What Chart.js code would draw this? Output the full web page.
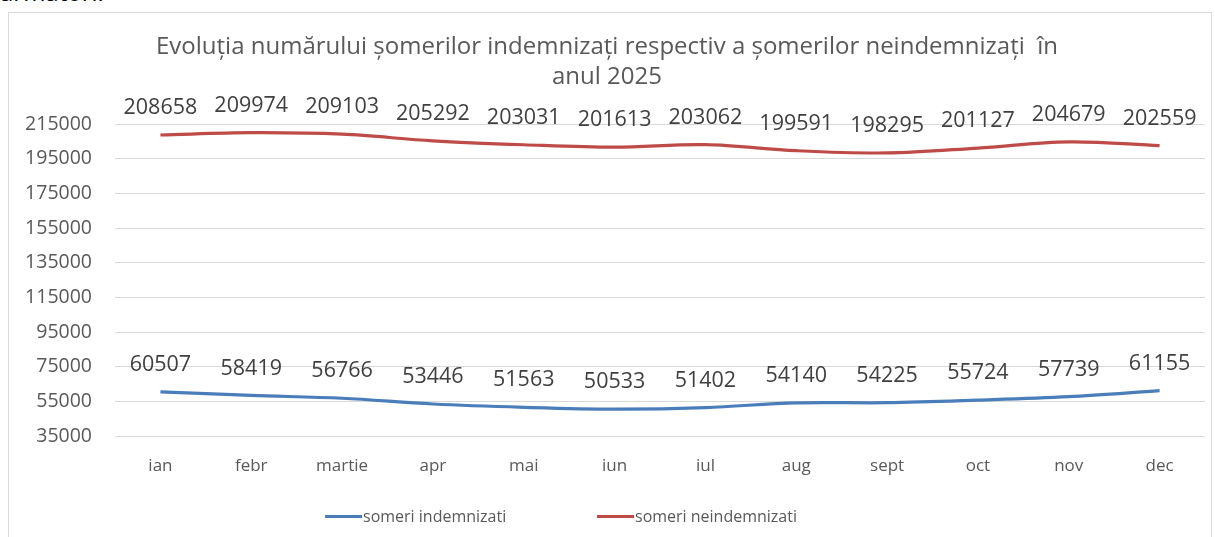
<!DOCTYPE html>
<html>
<head>
<meta charset="utf-8">
<script src="https://cdn.jsdelivr.net/npm/chart.js@4.4.1/dist/chart.umd.min.js"></script>
<style>
  html, body { margin: 0; padding: 0; background: #fff; overflow: hidden; }
  body { width: 1215px; height: 537px; position: relative; font-family: "Open Sans", sans-serif; }
  .cut { position: absolute; left: 0; top: -25px; font-size: 24px; color: #000; }
  .frame { position: absolute; left: 8px; top: 12px; width: 1204px; height: 540px; border: 1px solid #d9d9d9; box-sizing: border-box; }
  .wrap { position: absolute; left: 9px; top: 13px; width: 1203px; height: 524px; }
  .legend { position: absolute; top: 505px; left: 325px; font-size: 16px; color: #595959; white-space: nowrap; }
  .legend span.item { position: absolute; top: 0; display: flex; align-items: center; }
  .legend i { display: inline-block; width: 37px; height: 3px; margin-right: 1px; }
</style>
</head>
<body>
<div class="cut">armatori:</div>
<div class="frame"></div>
<div class="wrap"><canvas id="c" width="1203" height="524"></canvas></div>
<div class="legend" id="legend"></div>
<script>
// luni
const luni = ['ian', 'febr', 'martie', 'apr', 'mai', 'iun', 'iul', 'aug', 'sept', 'oct', 'nov', 'dec'];

// someri indemnizati
const indemnizati = [60507, 58419, 56766, 53446, 51563, 50533, 51402, 54140, 54225, 55724, 57739, 61155];

// someri neindemnizati
const neindemnizati = [208658, 209974, 209103, 205292, 203031, 201613, 203062, 199591, 198295, 201127, 204679, 202559];

const titlu = ['Evoluția numărului șomerilor indemnizați respectiv a șomerilor neindemnizați  în', 'anul 2025'];

const culoareAlbastru = '#4a7ebb';
const culoareRosu = '#be4b48';

// etichete de date deasupra punctelor
const eticheteDate = {
    id: 'eticheteDate',
    afterDatasetsDraw(chart) {
        const ctx = chart.ctx;
        ctx.save();
        ctx.font = '21.5px "Open Sans"';
        ctx.fillStyle = '#404040';
        ctx.textAlign = 'center';
        ctx.textBaseline = 'middle';
        chart.data.datasets.forEach((ds, i) => {
            const meta = chart.getDatasetMeta(i);
            meta.data.forEach((pt, j) => {
                ctx.fillText(String(ds.data[j]), pt.x, pt.y - 27);
            });
        });
        ctx.restore();
    }
};

const chart = new Chart(document.getElementById('c'), {
    type: 'line',
    data: {
        labels: luni,
        datasets: [{
            label: 'someri indemnizati',
            data: indemnizati,
            borderColor: culoareAlbastru,
            borderWidth: 3.2,
            pointRadius: 0,
            tension: 0.35,
            fill: false
        }, {
            label: 'someri neindemnizati',
            data: neindemnizati,
            borderColor: culoareRosu,
            borderWidth: 3.2,
            pointRadius: 0,
            tension: 0.35,
            fill: false
        }]
    },
    options: {
        responsive: false,
        animation: false,
        layout: { padding: { left: 0, right: 7, top: 0, bottom: 56 } },
        plugins: {
            legend: { display: false },
            tooltip: { enabled: false },
            title: {
                display: true,
                text: titlu,
                color: '#595959',
                font: { family: 'Open Sans', size: 24, weight: 'normal', lineHeight: 1.25 },
                padding: { top: 19, bottom: 32 }
            }
        },
        scales: {
            x: {
                offset: true,
                grid: { display: false },
                border: { display: false },
                ticks: { color: '#595959', font: { family: 'Open Sans', size: 17 }, padding: 12 },
                afterFit(scale) { scale.height = 45; }
            },
            y: {
                min: 35000,
                max: 215000,
                grid: { color: '#d9d9d9', drawTicks: false },
                border: { display: false },
                ticks: {
                    stepSize: 20000, color: '#595959', font: { family: 'Open Sans', size: 19.5 }, padding: 23,
                    callback: v => String(v)
                },
                afterFit(scale) { scale.width = 106; }
            }
        }
    },
    plugins: [eticheteDate]
});

// legenda
const leg = document.getElementById('legend');
const pozitii = [0, 272];
chart.data.datasets.forEach((ds, i) => {
    const s = document.createElement('span');
    s.className = 'item';
    s.style.left = pozitii[i] + 'px';
    s.innerHTML = '<i style="background:' + ds.borderColor + '"></i>' + ds.label;
    leg.appendChild(s);
});
</script>
</body>
</html>
